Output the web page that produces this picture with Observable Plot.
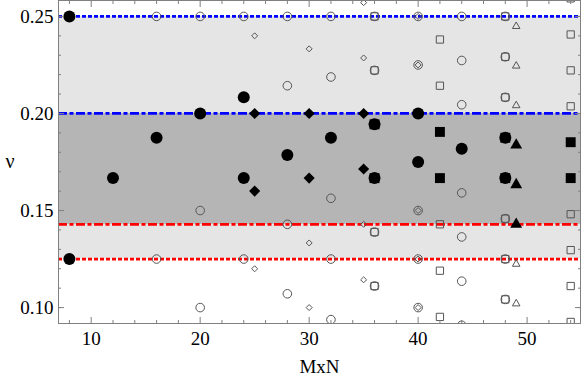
<!DOCTYPE html>
<html><head><meta charset="utf-8">
<script src="https://cdn.jsdelivr.net/npm/d3@7"></script>
<script src="https://cdn.jsdelivr.net/npm/@observablehq/plot@0.6"></script>
<style>body{margin:0;background:#fff}</style>
</head><body><div id="chart"></div>
<script>
// Reference bands and lines (nu values)
const bandLight = [0.125, 0.25];
const bandDark = [0.1429, 0.2];
const lineValues = [0.25, 0.2, 0.1429, 0.125];
const lineColors = ["#0000ff", "#0000ff", "#ff0000", "#ff0000"];
const lineDash = ["4,2", "9,2.5,4,2.5", "9,2.5,4,2.5", "4,2"];

// Ticks
const xMajor = [10, 20, 30, 40, 50];
const xMinor = [8, 12, 14, 16, 18, 22, 24, 26, 28, 32, 34, 36, 38, 42, 44, 46, 48, 52, 54];
const yMajor = [0.10, 0.15, 0.20, 0.25];
const yMinor = [0.10, 0.11, 0.12, 0.13, 0.14, 0.15, 0.16, 0.17, 0.18, 0.19, 0.20, 0.21, 0.22, 0.23, 0.24, 0.25];

// Circles (filled)
const circFilledMN = [8, 8, 12, 16, 20, 24, 24, 28, 32, 36, 36, 40, 40, 44, 48, 48];
const circFilledNu = [0.25, 0.125, 0.1667, 0.1875, 0.2, 0.2083, 0.1667, 0.1786, 0.1875, 0.1944, 0.1667, 0.2, 0.175, 0.1818, 0.1875, 0.1667];
// Circles (open)
const circOpenMN = [16, 16, 20, 20, 20, 24, 24, 28, 28, 28, 28, 32, 32, 32, 32, 32, 36, 36, 36, 36, 40, 40, 40, 40, 40, 44, 44, 44, 44, 44, 44, 44, 48, 48, 48, 48, 48, 48];
const circOpenNu = [0.25, 0.125, 0.25, 0.15, 0.10, 0.25, 0.125, 0.25, 0.2143, 0.1429, 0.1071, 0.25, 0.2188, 0.1563, 0.125, 0.0938, 0.25, 0.2222, 0.1389, 0.1111, 0.25, 0.225, 0.15, 0.125, 0.10, 0.25, 0.2273, 0.2045, 0.1591, 0.1364, 0.1136, 0.0909, 0.25, 0.2292, 0.2083, 0.1458, 0.125, 0.1042];
// Diamonds
const diamFilledMN = [25, 25, 30, 30, 35, 35, 40, 40];
const diamFilledNu = [0.2, 0.16, 0.2, 0.1667, 0.2, 0.1714, 0.2, 0.175];
const diamOpenMN = [25, 25, 30, 30, 30, 35, 35, 35, 35, 40, 40, 40, 40, 40];
const diamOpenNu = [0.24, 0.12, 0.2333, 0.1333, 0.10, 0.2571, 0.2286, 0.1429, 0.1143, 0.25, 0.225, 0.15, 0.125, 0.10];
// Squares
const sqFilledMN = [36, 36, 42, 42, 48, 48, 54, 54];
const sqFilledNu = [0.1944, 0.1667, 0.1905, 0.1667, 0.1875, 0.1667, 0.1852, 0.1667];
const sqOpenMN = [36, 36, 36, 36, 42, 42, 42, 42, 42, 48, 48, 48, 48, 48, 48, 54, 54, 54, 54, 54, 54, 54, 54];
const sqOpenNu = [0.25, 0.2222, 0.1389, 0.1111, 0.2381, 0.2143, 0.1429, 0.119, 0.0952, 0.25, 0.2292, 0.2083, 0.1458, 0.125, 0.1042, 0.2593, 0.2407, 0.2222, 0.2037, 0.1481, 0.1296, 0.1111, 0.0926];
// Triangles
const triFilledMN = [49, 49, 49];
const triFilledNu = [0.1837, 0.1633, 0.1429];
const triOpenMN = [49, 49, 49, 49, 49];
const triOpenNu = [0.2449, 0.2245, 0.2041, 0.1224, 0.102];

const pts = (xs, ys) => xs.map((x, i) => ({x, y: ys[i]}));
const tickGray = "#808080";
const openGray = "#555555";

const chart = Plot.plot({
  width: 581, height: 377,
  marginLeft: 58, marginRight: 1, marginTop: 0, marginBottom: 54,
  x: {domain: [7, 54.9]},
  y: {domain: [0.0918, 0.2582]},
  style: {fontFamily: "'Liberation Serif', 'Times New Roman', serif", fontSize: "19px", background: "#fff", color: "#000"},
  marks: [
    Plot.rect([{y1: bandLight[0], y2: bandLight[1]}], {y1: "y1", y2: "y2", fill: "#e5e5e5"}),
    Plot.rect([{y1: bandDark[0], y2: bandDark[1]}], {y1: "y1", y2: "y2", fill: "#b5b5b5"}),
    ...lineValues.map((v, i) => Plot.ruleY([v], {stroke: lineColors[i], strokeWidth: 2.8, strokeDasharray: lineDash[i]})),
    // open markers
    Plot.dot(pts(circOpenMN, circOpenNu), {x: "x", y: "y", symbol: "circle", r: 4.3, fill: "none", stroke: openGray, strokeWidth: 1, clip: true}),
    Plot.dot(pts(diamOpenMN, diamOpenNu), {x: "x", y: "y", symbol: "diamond2", r: 2.7, fill: "none", stroke: openGray, strokeWidth: 1, clip: true}),
    Plot.dot(pts(sqOpenMN, sqOpenNu), {x: "x", y: "y", symbol: "square", r: 4.1, fill: "none", stroke: openGray, strokeWidth: 1, clip: true}),
    Plot.dot(pts(triOpenMN, triOpenNu), {x: "x", y: "y", symbol: "triangle", r: 2.8, fill: "none", stroke: openGray, strokeWidth: 1, clip: true}),
    // filled markers
    Plot.dot(pts(diamFilledMN, diamFilledNu), {x: "x", y: "y", symbol: "diamond2", r: 5, fill: "#000", stroke: "none", clip: true}),
    Plot.dot(pts(circFilledMN, circFilledNu), {x: "x", y: "y", symbol: "circle", r: 6, fill: "#000", stroke: "none", clip: true}),
    Plot.dot(pts(sqFilledMN, sqFilledNu), {x: "x", y: "y", symbol: "square", r: 5.6, fill: "#000", stroke: "none", clip: true}),
    Plot.dot(pts(triFilledMN, triFilledNu), {x: "x", y: "y", symbol: "triangle", r: 4.4, fill: "#000", stroke: "none", clip: true}),
    // frame
    Plot.frame({stroke: tickGray, strokeWidth: 1}),
    // inward ticks
    Plot.axisX({anchor: "bottom", ticks: xMinor, tickSize: -3, tickFormat: () => "", label: null, stroke: tickGray}),
    Plot.axisX({anchor: "bottom", ticks: xMajor, tickSize: -6, tickFormat: () => "", label: null, stroke: tickGray}),
    Plot.axisX({anchor: "top", ticks: xMinor, tickSize: -3, tickFormat: () => "", label: null, stroke: tickGray}),
    Plot.axisX({anchor: "top", ticks: xMajor, tickSize: -6, tickFormat: () => "", label: null, stroke: tickGray}),
    Plot.axisY({anchor: "left", ticks: yMinor, tickSize: -3, tickFormat: () => "", label: null, stroke: tickGray}),
    Plot.axisY({anchor: "left", ticks: yMajor, tickSize: -6, tickFormat: () => "", label: null, stroke: tickGray}),
    Plot.axisY({anchor: "right", ticks: yMinor, tickSize: -3, tickFormat: () => "", label: null, stroke: tickGray}),
    Plot.axisY({anchor: "right", ticks: yMajor, tickSize: -6, tickFormat: () => "", label: null, stroke: tickGray}),
    // tick labels
    Plot.axisX({anchor: "bottom", ticks: xMajor, tickSize: 0, tickPadding: 8, tickFormat: d3.format("d"), label: null, stroke: "none"}),
    Plot.axisY({anchor: "left", ticks: yMajor, tickSize: 0, tickPadding: 5, tickFormat: d3.format(".2f"), label: null, stroke: "none"}),
    // axis titles
    Plot.text(["ν"], {frameAnchor: "left", dx: -53, fontSize: 20, lineAnchor: "middle"}),
    Plot.text(["MxN"], {frameAnchor: "bottom", dy: 43, fontSize: 19, lineAnchor: "middle"})
  ]
});
document.getElementById("chart").appendChild(chart);
</script></body></html>
